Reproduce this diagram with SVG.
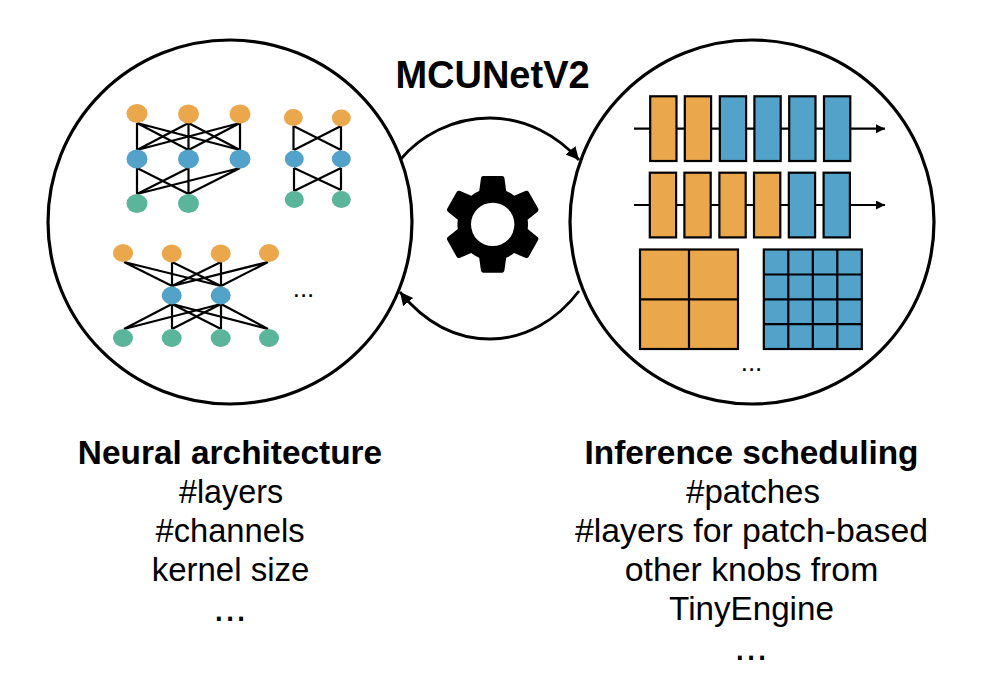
<svg xmlns="http://www.w3.org/2000/svg" width="998" height="676" viewBox="0 0 998 676">
<style>
text{font-family:"Liberation Sans",Arial,sans-serif;fill:#000;text-anchor:middle}
.b{font-weight:bold;font-size:33.400px}
.c{fill:#fff;stroke:#000;stroke-width:3.200}
.o{fill:#EBA74C}.u{fill:#53A2CA}.g{fill:#5AB59B}
.l{stroke:#000;stroke-width:2.200;fill:none}
.r{stroke:#000;stroke-width:2.200}
.a{stroke:#000;stroke-width:2.800;fill:none}
</style>
<defs>
<marker id="h" markerUnits="userSpaceOnUse" markerWidth="14" markerHeight="14" refX="13" refY="6.500" orient="auto"><path d="M0 0L13 6.500L0 13z" fill="#000"/></marker>
<marker id="s" markerUnits="userSpaceOnUse" markerWidth="10" markerHeight="10" refX="9" refY="4.500" orient="auto"><path d="M0 0L9 4.500L0 9z" fill="#000"/></marker>
</defs>
<g id="neural-circle"><circle class="c" cx="230" cy="222" r="182"/></g>
<g id="schedule-circle"><circle class="c" cx="752" cy="222" r="182"/></g>
<g id="connectors">
<path class="a" marker-end="url(#h)" d="M400 160C420 136 452 118 490 118C526 118 558 136 579 160"/>
<path class="a" marker-end="url(#h)" d="M579 291C558 319 526 339 490 339C452 339 422 319 400 292"/>
<path class="l" d="M137 123V150M137 123L188.500 150M137 123L240 150M188.500 123V150M188.500 123L137 150M188.500 123L240 150M240 123V150M240 123L137 150M240 123L188.500 150"/>
<path class="l" d="M137 168V194M137 168L188.500 194M188.500 168V194M188.500 168L137 194M240 168L137 194M240 168L188.500 194"/>
<path class="l" d="M293.500 126V150M293.500 126L341 150M341 126V150M341 126L294 150M294 168V191M294 168L341 190M341 168V190M341 168L294 191"/>
<path class="l" d="M124 262L172 286M124 262L221 286M172 262V286M172 262L221 286M221 262V286M221 262L172 286M268 262L172 286M268 262L221 286"/>
<path class="l" d="M172 304L124 329M172 304V329M172 304L221 329M172 304L268 329M221 304L124 329M221 304L172 329M221 304V329M221 304L268 329"/>
</g>
<g id="net-a">
<ellipse class="o" cx="137" cy="113.500" rx="10.500" ry="9.500"/><ellipse class="o" cx="188.500" cy="114" rx="10.500" ry="9.500"/><ellipse class="o" cx="240" cy="114" rx="10.500" ry="9.500"/>
<ellipse class="u" cx="137" cy="159" rx="10.500" ry="9.500"/><ellipse class="u" cx="188.500" cy="159" rx="10.500" ry="9.500"/><ellipse class="u" cx="240" cy="159" rx="10.500" ry="9.500"/>
<ellipse class="g" cx="137" cy="203.500" rx="10.500" ry="9.500"/><ellipse class="g" cx="188.500" cy="203.500" rx="10.500" ry="9.500"/>
</g>
<g id="net-b">
<ellipse class="o" cx="293.300" cy="117.500" rx="9.500" ry="8.500"/><ellipse class="o" cx="341.300" cy="118" rx="9.500" ry="8.500"/>
<ellipse class="u" cx="294.300" cy="159" rx="9.500" ry="8.500"/><ellipse class="u" cx="341.300" cy="159" rx="9.500" ry="8.500"/>
<ellipse class="g" cx="294.300" cy="199.500" rx="9.500" ry="8.500"/><ellipse class="g" cx="341.300" cy="199.500" rx="9.500" ry="8.500"/>
</g>
<g id="net-c">
<ellipse class="o" cx="123" cy="253" rx="10" ry="9"/><ellipse class="o" cx="171.700" cy="253.500" rx="10" ry="9"/><ellipse class="o" cx="220.700" cy="253.500" rx="10" ry="9"/><ellipse class="o" cx="269" cy="253" rx="10" ry="9"/>
<ellipse class="u" cx="171.700" cy="295.500" rx="10" ry="9"/><ellipse class="u" cx="220.700" cy="295.500" rx="10" ry="9"/>
<ellipse class="g" cx="123" cy="338" rx="10" ry="9"/><ellipse class="g" cx="171.700" cy="338" rx="10" ry="9"/><ellipse class="g" cx="220.700" cy="338" rx="10" ry="9"/><ellipse class="g" cx="269" cy="338" rx="10" ry="9"/>
<text x="303.500" y="297" style="font-size:26px">...</text>
</g>
<g id="gear"><path fill="#000" fill-rule="evenodd" transform="translate(433.900 164) scale(4.900 5.030)" d="M19.140 12.940c.04-.3.06-.61.06-.94 0-.32-.02-.64-.07-.94l2.030-1.580c.18-.14.23-.41.12-.61l-1.920-3.320c-.12-.22-.37-.29-.59-.22l-2.390.96c-.5-.38-1.030-.7-1.620-.94l-.36-2.540c-.04-.24-.24-.41-.48-.41h-3.840c-.24 0-.43.17-.47.41l-.36 2.540c-.59.24-1.130.57-1.620.94l-2.390-.96c-.22-.08-.47 0-.59.22L2.740 8.870c-.12.21-.08.47.12.61l2.030 1.580c-.05.3-.09.63-.09.94s.02.64.07.94l-2.030 1.580c-.18.14-.23.41-.12.61l1.920 3.320c.12.22.37.29.59.22l2.390-.96c.5.38 1.030.7 1.620.94l.36 2.540c.05.24.24.41.48.41h3.840c.24 0 .44-.17.47-.41l.36-2.540c.59-.24 1.130-.56 1.620-.94l2.390.96c.22.08.47 0 .59-.22l1.920-3.320c.12-.22.07-.47-.12-.61l-2.010-1.580zM12 7.680a4.430 4.320 0 1 0 0 8.640a4.430 4.320 0 1 0 0-8.640z"/></g>
<g id="sequence-1">
<path class="l" marker-end="url(#s)" d="M634 128.700H885"/>
<rect class="o r" x="650.200" y="96.300" width="26.300" height="64.700"/><rect class="o r" x="684.800" y="96.300" width="26.300" height="64.700"/><rect class="u r" x="719.800" y="96.300" width="26.300" height="64.700"/><rect class="u r" x="754.400" y="96.300" width="26.300" height="64.700"/><rect class="u r" x="789.200" y="96.300" width="26.300" height="64.700"/><rect class="u r" x="824" y="96.300" width="26.300" height="64.700"/>
</g>
<g id="sequence-2">
<path class="l" marker-end="url(#s)" d="M634 205H885"/>
<rect class="o r" x="649.800" y="172.700" width="26.300" height="64.700"/><rect class="o r" x="684.400" y="172.700" width="26.300" height="64.700"/><rect class="o r" x="719.400" y="172.700" width="26.300" height="64.700"/><rect class="o r" x="754" y="172.700" width="26.300" height="64.700"/><rect class="u r" x="788.800" y="172.700" width="26.300" height="64.700"/><rect class="u r" x="823.600" y="172.700" width="26.300" height="64.700"/>
</g>
<g id="grid-orange"><rect class="o r" x="640" y="249.500" width="98" height="99.500"/><path class="r" d="M689 249.500V349M640 299.300H738"/></g>
<g id="grid-blue"><rect class="u r" x="763.800" y="249.500" width="98" height="99.500"/><path class="r" d="M788.300 249.500V349M812.800 249.500V349M837.300 249.500V349M763.800 274.500H861.800M763.800 299.300H861.800M763.800 324.200H861.800"/></g>
<text x="751.500" y="371" style="font-size:26px">...</text>
<text x="492.500" y="88" style="font-size:38px;font-weight:bold">MCUNetV2</text>
<g id="left-label">
<text class="b" x="230" y="464">Neural architecture</text>
<text x="231" y="503" style="font-size:32.300px">#layers</text>
<text x="230" y="542" style="font-size:32.700px">#channels</text>
<text x="230.500" y="581" style="font-size:33px">kernel size</text>
<text x="230" y="621" style="font-size:40px">...</text>
</g>
<g id="right-label">
<text class="b" x="751.500" y="464">Inference scheduling</text>
<text x="753" y="503" style="font-size:33px">#patches</text>
<text x="751.500" y="542" style="font-size:33.800px">#layers for patch-based</text>
<text x="751.500" y="581" style="font-size:33.800px">other knobs from</text>
<text x="751.500" y="620" style="font-size:33.200px">TinyEngine</text>
<text x="751" y="660" style="font-size:40px">...</text>
</g>
</svg>
